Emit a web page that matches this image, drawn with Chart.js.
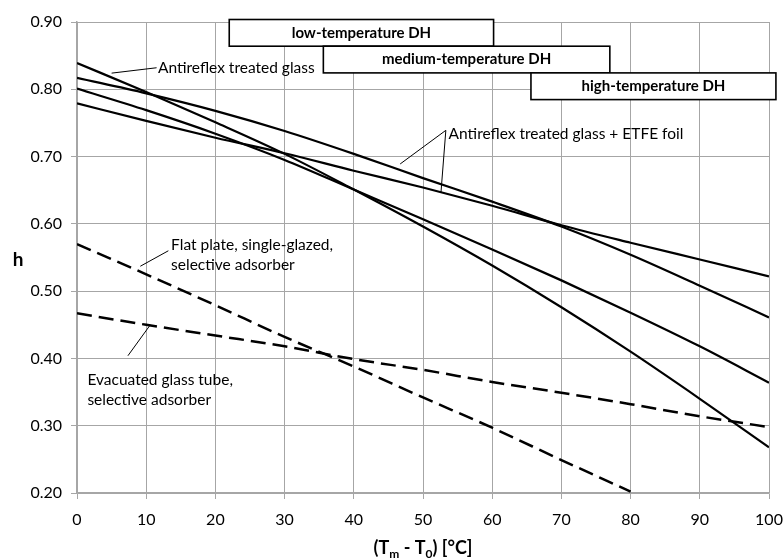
<!DOCTYPE html>
<html>
<head>
<meta charset="utf-8">
<script src="https://cdn.jsdelivr.net/npm/chart.js@4"></script>
<style>
  html, body { margin: 0; padding: 0; background: #fff; }
  #wrap { width: 783px; height: 558px; }
</style>
</head>
<body>
<div id="wrap"><canvas id="grafico" width="783" height="558"></canvas></div>
<script>
// temperature difference (Tm - T0) in °C
const temperature = [0, 10, 20, 30, 40, 50, 60, 70, 80, 90, 100];

// collector efficiency curves
const antireflex      = [0.839, 0.796, 0.751, 0.704, 0.651, 0.596, 0.538, 0.476, 0.410, 0.340, 0.268];
const etfeUpper       = [0.817, 0.794, 0.768, 0.738, 0.704, 0.668, 0.633, 0.596, 0.554, 0.508, 0.461];
const antireflexLower = [0.801, 0.769, 0.734, 0.695, 0.651, 0.607, 0.562, 0.516, 0.468, 0.418, 0.364];
const etfeLower       = [0.779, 0.753, 0.728, 0.705, 0.679, 0.654, 0.627, 0.598, 0.572, 0.547, 0.522];
const flatPlate       = [0.570, 0.525, 0.479, 0.432, 0.388, 0.342, 0.297, 0.249, 0.202, null, null];
const evacuatedTube   = [0.467, 0.450, 0.434, 0.418, 0.399, 0.383, 0.365, 0.349, 0.332, 0.314, 0.298];

const yTicks = [0.20, 0.30, 0.40, 0.50, 0.60, 0.70, 0.80, 0.90];

// temperature ranges of district heating (from, to in °C)
const dhLabels = ['low-temperature DH', 'medium-temperature DH', 'high-temperature DH'];
const dhRanges = [[22, 60.2], [35.6, 77], [65.6, 101]];

// curve labels: text lines, anchor [x, y], leader lines [[x1, y1], [x2, y2]]
const curveLabels = [
    { text: ['Antireflex treated glass'], at: [11.7, 0.832], leaders: [[[5.0, 0.824], [11.5, 0.832]]] },
    { text: ['Antireflex treated glass + ETFE foil'], at: [53.7, 0.733],
      leaders: [[[53.3, 0.739], [46.7, 0.689]], [[53.3, 0.739], [52.6, 0.647]]] },
    { text: ['Flat plate, single-glazed,', 'selective adsorber'], at: [13.6, 0.569], leaders: [[[9.15, 0.537], [13.2, 0.560]]] },
    { text: ['Evacuated glass tube,', 'selective adsorber'], at: [1.5, 0.368], leaders: [[[7.36, 0.404], [10.6, 0.450]]] },
];

const FONT = 'Lato';

function toPoints(values) {
    return temperature.map((t, i) => ({ x: t, y: values[i] }));
}

const decorazioni = {
    id: 'decorazioni',
    afterDatasetsDraw(chart) {
        const ctx = chart.ctx;
        const x = chart.scales.x;
        const y = chart.scales.y;
        const area = chart.chartArea;
        ctx.save();

        // leader lines and curve labels
        ctx.strokeStyle = '#000';
        ctx.lineWidth = 1;
        curveLabels.forEach((lab) => {
            lab.leaders.forEach((seg) => {
                ctx.beginPath();
                ctx.moveTo(x.getPixelForValue(seg[0][0]), y.getPixelForValue(seg[0][1]));
                ctx.lineTo(x.getPixelForValue(seg[1][0]), y.getPixelForValue(seg[1][1]));
                ctx.stroke();
            });
            ctx.fillStyle = '#000';
            ctx.font = '15.5px ' + FONT;
            ctx.textAlign = 'left';
            ctx.textBaseline = 'middle';
            lab.text.forEach((line, i) => {
                ctx.fillText(line, x.getPixelForValue(lab.at[0]), y.getPixelForValue(lab.at[1]) + i * 20.5);
            });
        });

        // district heating boxes
        const rowH = 26.7;
        dhRanges.forEach((r, i) => {
            const left = x.getPixelForValue(r[0]);
            const right = x.getPixelForValue(r[1]);
            const top = area.top - 2.5 + i * rowH;
            ctx.fillStyle = '#fff';
            ctx.fillRect(left, top, right - left, rowH);
            ctx.lineWidth = 1.6;
            ctx.strokeStyle = '#000';
            ctx.strokeRect(left, top, right - left, rowH);
            ctx.fillStyle = '#000';
            ctx.font = 'bold 15px ' + FONT;
            ctx.textAlign = 'center';
            ctx.textBaseline = 'middle';
            ctx.fillText(dhLabels[i], (left + right) / 2, top + rowH / 2);
        });

        // y axis title
        ctx.font = 'bold 19px ' + FONT;
        ctx.textAlign = 'center';
        ctx.textBaseline = 'middle';
        ctx.fillText('h', 18, (area.top + area.bottom) / 2 + 2);

        // x axis title with subscripts
        const parts = [
            { t: '(T', sub: false }, { t: 'm', sub: true }, { t: ' - T', sub: false },
            { t: '0', sub: true }, { t: ') [°C]', sub: false },
        ];
        const big = 'bold 18px ' + FONT;
        const small = 'bold 12px ' + FONT;
        let total = 0;
        parts.forEach((p) => {
            ctx.font = p.sub ? small : big;
            p.w = ctx.measureText(p.t).width;
            total += p.w;
        });
        let cx = (area.left + area.right) / 2 - total / 2;
        const base = 554;
        ctx.textAlign = 'left';
        ctx.textBaseline = 'alphabetic';
        parts.forEach((p) => {
            ctx.font = p.sub ? small : big;
            ctx.fillText(p.t, cx, p.sub ? base + 4 : base);
            cx += p.w;
        });

        ctx.restore();
    },
};

const solid = { borderColor: '#000', borderWidth: 2.2, pointRadius: 0, fill: false, cubicInterpolationMode: 'monotone' };
const dashed = { borderColor: '#000', borderWidth: 2.5, pointRadius: 0, fill: false, borderDash: [15, 7], cubicInterpolationMode: 'monotone' };

new Chart(document.getElementById('grafico').getContext('2d'), {
    type: 'line',
    data: {
        datasets: [
            { label: 'Antireflex treated glass', data: toPoints(antireflex), ...solid },
            { label: 'Antireflex treated glass + ETFE foil', data: toPoints(etfeUpper), ...solid },
            { label: 'Antireflex treated glass (2)', data: toPoints(antireflexLower), ...solid },
            { label: 'Antireflex treated glass + ETFE foil (2)', data: toPoints(etfeLower), ...solid },
            { label: 'Flat plate, single-glazed, selective adsorber', data: toPoints(flatPlate), ...dashed },
            { label: 'Evacuated glass tube, selective adsorber', data: toPoints(evacuatedTube), ...dashed },
        ],
    },
    options: {
        responsive: false,
        devicePixelRatio: 1,
        animation: false,
        layout: { padding: { left: 0, right: 14, top: 22, bottom: 0 } },
        plugins: { legend: { display: false }, tooltip: { enabled: false } },
        scales: {
            x: {
                type: 'linear',
                min: 0,
                max: 100,
                ticks: { stepSize: 10, color: '#000', font: { family: FONT, size: 16 }, padding: 11, maxRotation: 0 },
                grid: { color: '#a6a6a6', lineWidth: 1, tickLength: 6, tickColor: '#a6a6a6' },
                border: { color: '#a6a6a6', width: 1.5 },
                afterFit(scale) {
                    scale.height = 65;
                    scale.paddingLeft = 0;
                    scale.paddingRight = 0;
                },
            },
            y: {
                min: 0.2,
                max: 0.9,
                afterBuildTicks(scale) { scale.ticks = yTicks.map((v) => ({ value: v })); },
                ticks: { color: '#000', font: { family: FONT, size: 16 }, padding: 9, callback: (v) => v.toFixed(2) },
                grid: { color: '#a6a6a6', lineWidth: 1, tickLength: 6, tickColor: '#a6a6a6' },
                border: { color: '#a6a6a6', width: 1.5 },
                afterFit(scale) {
                    scale.width = 77;
                    scale.paddingTop = 0;
                    scale.paddingBottom = 0;
                },
            },
        },
    },
    plugins: [decorazioni],
});
</script>
</body>
</html>
